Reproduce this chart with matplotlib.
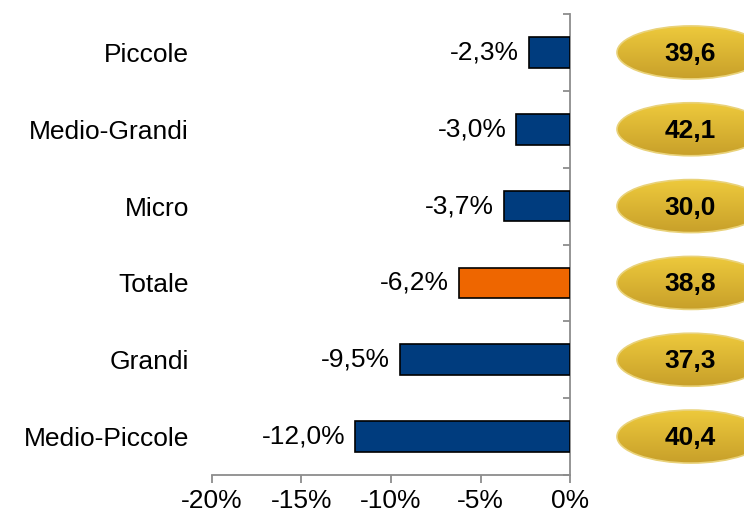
import matplotlib.pyplot as plt
import numpy as np
from matplotlib.patches import Ellipse

# Data
categories = ['Piccole', 'Medio-Grandi', 'Micro', 'Totale', 'Grandi', 'Medio-Piccole']
changes = [-2.3, -3.0, -3.7, -6.2, -9.5, -12.0]
badge_values = [39.6, 42.1, 30.0, 38.8, 37.3, 40.4]
highlight = 'Totale'

plt.rcParams['font.family'] = ['Liberation Sans', 'DejaVu Sans']

W, H = 744, 518
fig = plt.figure(figsize=(W / 100, H / 100), dpi=100)

left, right_px, top_px, bottom_px = 212, 570, 14, 475
ax = fig.add_axes([left / W, 1 - bottom_px / H, (right_px - left) / W, (bottom_px - top_px) / H])

n = len(categories)
y = np.arange(n)
colors = ['#EE6600' if c == highlight else '#003C7E' for c in categories]
ax.barh(y, changes, height=0.4, color=colors, edgecolor='black', linewidth=1.2, zorder=3)

# value labels left of each bar
for yi, v in zip(y, changes):
    ax.annotate(f'{v:.1f}%'.replace('.', ','), xy=(v, yi), xytext=(-7, 0),
                textcoords='offset points', ha='right', va='center', fontsize=19)

ax.set_xlim(-20, 0)
ax.set_ylim(n - 0.5, -0.5)
ax.set_xticks([-20, -15, -10, -5, 0])
ax.set_xticklabels(['-20%', '-15%', '-10%', '-5%', '0%'])

ax.set_yticks(y)
ax.set_yticklabels(categories)
ax.set_yticks(np.arange(n + 1) - 0.5, minor=True)

for s in ['left', 'top']:
    ax.spines[s].set_visible(False)
for s in ['right', 'bottom']:
    ax.spines[s].set_color('#8C8C8C')
    ax.spines[s].set_linewidth(1.3)

ax.tick_params(axis='x', direction='out', length=6, width=1.3, color='#8C8C8C',
               labelsize=19, pad=4)
ax.tick_params(axis='y', which='major', left=False, right=False, labelsize=19, pad=13)
ax.tick_params(axis='y', which='minor', left=False, right=True, direction='in',
               length=5, width=1.3, color='#8C8C8C')

# gold badges on the right, sharing the category axis
ax2 = fig.add_axes([right_px / W, 1 - bottom_px / H, (W - right_px) / W, (bottom_px - top_px) / H],
                   sharey=ax)
ax2.set_xlim(0, W - right_px)
ax2.axis('off')

band_px = (bottom_px - top_px) / n
ew, eh = 148, 53 / band_px
cx = 121
grad = np.linspace(0, 1, 64).reshape(-1, 1)
cmap = plt.matplotlib.colors.LinearSegmentedColormap.from_list('gold', ['#EDC93C', '#C8A02A'])
for yi, val in zip(y, badge_values):
    ell = Ellipse((cx, yi), ew, eh, facecolor='none', edgecolor='#E9D27A', linewidth=1.2, zorder=4)
    im = ax2.imshow(grad, cmap=cmap, aspect='auto', origin='upper',
                    extent=(cx - ew / 2, cx + ew / 2, yi + eh / 2, yi - eh / 2), zorder=3)
    ax2.add_patch(ell)
    im.set_clip_path(ell)
    ax2.text(cx - 1, yi + 0.02, f'{val:.1f}'.replace('.', ','), ha='center', va='center',
             fontsize=19, fontweight='bold', zorder=5)

ax2.set_xlim(0, W - right_px)
ax.set_ylim(n - 0.5, -0.5)

fig.savefig('out.png', dpi=100)
